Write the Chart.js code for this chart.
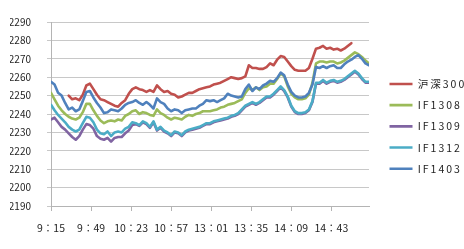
<!DOCTYPE html>
<html><head><meta charset="utf-8">
<script src="https://cdn.jsdelivr.net/npm/chart.js@4/dist/chart.umd.min.js"></script>
<style>html,body{margin:0;padding:0;background:#fff;overflow:hidden}</style>
</head><body>
<canvas id="c" width="464" height="249"></canvas>
<script>
// minutes since 9:15 (trading minutes, lunch break removed), sampled every 3 minutes
const minuteIndex = [0,3,6,9,12,15,18,21,24,27,30,33,36,39,42,45,48,51,54,57,60,63,66,69,72,75,78,81,84,87,90,93,96,99,102,105,108,111,114,117,120,123,126,129,132,135,138,141,144,147,150,153,156,159,162,165,168,171,174,177,180,183,186,189,192,195,198,201,204,207,210,213,216,219,222,225,228,231,234,237,240,243,246,249,252,255,258,261,264,267,270];
const tickPositions = [0,34,68,102,136,170,204,238];
const tickLabels = ['9：15','9：49','10：23','10：57','13：01','13：35','14：09','14：43'];
const seriesNames = ['沪深300','IF1308','IF1309','IF1312','IF1403'];

const hs300 = [null,null,null,null,null,2250,2248,2248.5,2247.5,2250.5,
2255.5,2256.5,2253.5,2250.5,2248,2247.5,2246.5,2245.5,2244.5,2244,
2246,2247.5,2251,2253.5,2254.5,2253.5,2253,2252,2253,2252,
2255.5,2253.5,2252,2252.5,2251,2250.5,2249,2249.5,2250.5,2251.5,
2251.5,2252.5,2253.5,2254,2254.5,2255,2256,2256.5,2257,2258,
2259,2260,2259.5,2259,2259.5,2260.5,2266.5,2265,2265,2264.5,
2264.5,2265.5,2267.5,2266.5,2269.5,2271.5,2271,2268.5,2266,2264,
2263.5,2263.5,2263.5,2265,2270,2275.5,2276,2277,2275.5,2276,
2275,2275.5,2274.5,2275.5,2277,2278.5,null,null,null,null,
null];
const if1308 = [2251.5,2248,2244.5,2242,2240,2238.5,2237.5,2237,2238,2241,
2245.5,2245.5,2242,2239,2236.5,2235,2236,2236.5,2236,2237,
2236.5,2239,2240,2241.5,2242,2240,2241,2240.5,2239.5,2239,
2242.5,2240.5,2239.5,2238,2237,2238,2237.5,2237,2238.5,2239.5,
2239,2240,2240.5,2241.5,2241.5,2241.5,2242,2242.5,2243.5,2244,
2245,2245.5,2246,2247,2248,2251.5,2254,2253,2254.5,2253,
2254.5,2255,2256.5,2256.5,2259,2262,2260.5,2255,2251,2249,
2248,2248,2248.5,2250.5,2257,2267.5,2268.5,2268.5,2268,2268.5,
2268.5,2267.5,2268,2269,2270.5,2272,2273.5,2272.5,2271,2269,
2267.5];
const if1309 = [2237,2238,2235.5,2233,2231.5,2229.5,2227.5,2226,2228,2231.5,
2234.5,2234,2232,2228,2226.5,2226,2227,2225,2227,2227.5,
2227.5,2229.5,2231,2234,2234.5,2233.5,2235.5,2234.5,2232.5,2235.5,
2231,2232.5,2230.5,2229.5,2228,2230,2229.5,2228,2230,2231,
2231.5,2232,2232.5,2233.5,2234.5,2234.5,2235.5,2236,2236.5,2237,
2237.5,2238.5,2239,2240,2242,2244,2245,2246,2245,2246,
2247.5,2249,2249,2250.5,2252.5,2254.5,2252.5,2249,2244,2241,
2240,2240,2240.5,2242,2246.5,2256.5,2256.5,2258,2256.5,2257.5,
2258,2257,2257.5,2258.5,2260,2261.5,2263,2261.5,2259,2257,
2257];
const if1312 = [2245,2242,2239.5,2237.5,2235.5,2233,2231.5,2230.5,2231.5,2235,
2238.5,2238,2235.5,2231.5,2229.5,2229,2230.5,2228,2230,2230.5,
2230,2232,2233,2235.5,2235,2234,2236,2235,2233,2236,
2231.5,2233,2231,2230,2228.5,2230.5,2230,2228.5,2230.5,2231.5,
2232,2232.5,2233,2234,2235,2235,2236,2236.5,2237,2237.5,
2238,2239,2239.5,2240.5,2242.5,2244.5,2245.5,2246.5,2245.5,2246.5,
2248,2249.5,2249.5,2251,2253,2255,2253,2249.5,2244.5,2241.5,
2240.5,2240.5,2241,2242.5,2247,2257,2257,2258.5,2257,2258,
2258.5,2257.5,2258,2259,2260.5,2262,2263.5,2262,2259.5,2257.5,
2257.5];
const if1403 = [2257.5,2256,2251.5,2250,2246,2242.5,2243.5,2241.5,2242.5,2247,
2252,2252.5,2249,2246,2243.5,2240.5,2241,2242.5,2242,2241.5,
2243,2245,2246,2246.5,2247.5,2246,2245,2246.5,2245,2243,
2248.5,2246.5,2245.5,2243,2241.5,2242.5,2242,2240.5,2242,2242.5,
2243,2243,2244.5,2245.5,2247.5,2247,2247.5,2246.5,2247.5,2248.5,
2251,2250,2249.5,2249,2249.5,2253.5,2256,2252.5,2254.5,2253.5,
2255.5,2256.5,2258,2257.5,2259.5,2262.5,2261,2256,2252,2250,
2249,2249,2249.5,2251.5,2256,2265.5,2265,2266,2265,2266,
2266.5,2265,2265,2267,2268.5,2269.5,2271,2272,2270,2267.5,
2266.5];

const yMin = 2190, yMax = 2290, yStep = 10;
const colors = ['#c0504d','#9bbb59','#8064a2','#4bacc6','#4f81bd'];
const drawOrder = [4,3,2,1,0];
const allSeries = [hs300, if1308, if1309, if1312, if1403];

const font = 'Noto Sans CJK JP';
const textColor = '#1e1e1e';

const legendPlace = {
  id: 'legendPlace',
  beforeLayout(chart) {
    const l = chart.legend;
    if (l && !l._patched) {
      const fit = l.fit;
      l.fit = function() { fit.call(this); this.width = 95; };
      const draw = l.draw;
      l.draw = function() {
        const ctx = this.ctx;
        ctx.save();
        ctx.letterSpacing = '2px';
        draw.apply(this, arguments);
        ctx.restore();
      };
      l._patched = true;
    }
  },
  afterLayout(chart) {
    const l = chart.legend;
    if (!l) return;
    l.left = 378.8; l.right = l.left + 95;
    l.top = 68; l.bottom = 249;
  }
};

new Chart(document.getElementById('c'), {
  type: 'line',
  data: {
    datasets: allSeries.map((s, k) => ({
      label: seriesNames[k],
      data: minuteIndex.map((m, i) => ({x: m, y: s[i]})),
      borderColor: colors[k],
      backgroundColor: colors[k],
      borderWidth: 2.6,
      pointRadius: 0,
      pointHoverRadius: 0,
      tension: 0,
      borderJoinStyle: 'round',
      borderCapStyle: 'round',
      fill: false,
      order: drawOrder[k]
    }))
  },
  options: {
    responsive: false,
    animation: false,
    devicePixelRatio: 1,
    layout: { padding: { left: 10, top: 10, right: 0, bottom: 4 } },
    plugins: {
      tooltip: { enabled: false },
      legend: {
        position: 'right',
        align: 'start',
        labels: {
          usePointStyle: true,
          pointStyle: 'line',
          pointStyleWidth: 23,
          boxWidth: 23,
          padding: 10.7,
          color: textColor,
          font: { family: font, size: 10.5 },
          sort: (a, b) => a.datasetIndex - b.datasetIndex
        }
      }
    },
    scales: {
      x: {
        type: 'linear',
        min: 0, max: 270,
        afterBuildTicks(axis) { axis.ticks = tickPositions.map(v => ({value: v})); },
        ticks: {
          autoSkip: false,
          maxRotation: 0,
          padding: 10.7,
          color: textColor,
          font: { family: font, size: 10.5 },
          callback: (v) => { const i = tickPositions.indexOf(v); return i >= 0 ? tickLabels[i] : ''; }
        },
        grid: { drawOnChartArea: false, drawTicks: true, tickLength: 5, color: '#b4b4b4' },
        border: { color: '#b4b4b4', width: 1 }
      },
      y: {
        min: yMin, max: yMax,
        afterFit(axis) { axis.width = 41; },
        ticks: { stepSize: yStep, padding: 16, color: textColor, font: { family: font, size: 10 },
                 callback: (v) => String(v) },
        grid: { color: '#c8c8c8', tickLength: 4 },
        border: { color: '#b4b4b4', width: 1 }
      }
    }
  },
  plugins: [legendPlace]
});
</script>
</body></html>
